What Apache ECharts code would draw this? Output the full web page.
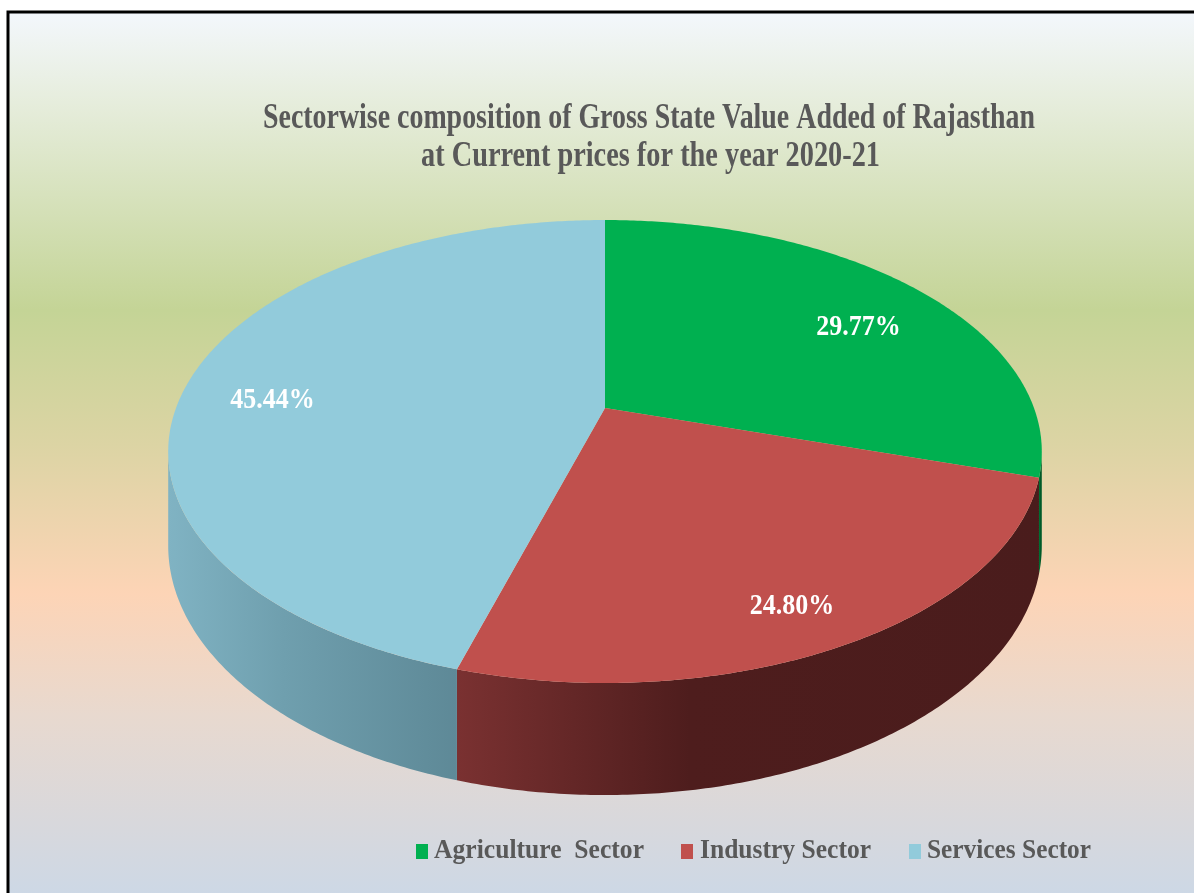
<!DOCTYPE html>
<html>
<head>
<meta charset="utf-8">
<script src="https://cdn.jsdelivr.net/npm/echarts@6/dist/echarts.min.js"></script>
<style>
  html, body { margin: 0; padding: 0; background: #fff; }
  #chart { width: 1194px; height: 893px; }
</style>
</head>
<body>
<div id="chart"></div>
<script>
// data
const sectors = ["Agriculture  Sector", "Industry Sector", "Services Sector"];
const shares = [29.77, 24.8, 45.44];
const titleLines = [
  "Sectorwise composition of Gross State Value Added of Rajasthan",
  "at Current prices for the year 2020-21",
];

// colours
const topColors = ["#00b050", "#c0504d", "#92cbdb"];
const sideColors = [
  ["#00803a", "#005a28", "#005a28"],
  ["#7a3131", "#4e1d1d", "#4a1c1c"],
  ["#80b3c3", "#6f9fae", "#5e8997"],
];

// pie projection (tilted disk with a bit of perspective)
const CX = 605, CY = 408, K = 429, KQ = 223.3, P = 0.188, DEPTH = 91;
const total = shares.reduce((a, b) => a + b, 0);
const SIL = Math.acos(-P); // where the wall starts to face the viewer

function sliceAngles(i) {
  let s = 0;
  for (let j = 0; j < i; j++) s += shares[j];
  return [(s / total) * Math.PI * 2, ((s + shares[i]) / total) * Math.PI * 2];
}

function project(theta, r, down) {
  const u = r * Math.sin(theta);
  const v = r * Math.cos(theta);
  const den = 1 + P * v;
  return [CX + (K * u) / den, CY + (-KQ * v + (down ? DEPTH : 0)) / den];
}

function arc(a0, a1, r, down) {
  const pts = [];
  const n = Math.max(2, Math.ceil((a1 - a0) / 0.01));
  for (let j = 0; j <= n; j++) pts.push(project(a0 + ((a1 - a0) * j) / n, r, down));
  return pts;
}

function renderSide(params, api) {
  const i = params.dataIndex;
  const [a0, a1] = sliceAngles(i);
  const t0 = Math.max(a0, SIL);
  const t1 = Math.min(a1, Math.PI * 2 - SIL);
  if (t0 >= t1) return null;
  const pts = arc(t0, t1, 1, false).concat(arc(t0, t1, 1, true).reverse());
  const c = sideColors[i];
  return {
    type: "polygon",
    shape: { points: pts },
    style: {
      // lighter toward the left
      fill: new echarts.graphic.LinearGradient(0, 0, 1, 0, [
        { offset: 0, color: c[0] },
        { offset: 0.4, color: c[1] },
        { offset: 1, color: c[2] },
      ]),
    },
  };
}

function renderTop(params, api) {
  const i = params.dataIndex;
  const [a0, a1] = sliceAngles(i);
  const pts = [project(0, 0, false)].concat(arc(a0, a1, 1, false));
  const lp = project((a0 + a1) / 2, 0.8, false);
  return {
    type: "group",
    children: [
      { type: "polygon", shape: { points: pts }, style: { fill: topColors[i] } },
      {
        type: "text",
        x: lp[0],
        y: lp[1] + 17,
        scaleY: 1.15,
        z2: 10,
        style: {
          text: api.value(0).toFixed(2) + "%",
          fill: "#fff",
          font: 'bold 26px "Liberation Serif"',
          align: "center",
          verticalAlign: "middle",
        },
      },
    ],
  };
}

// text fitting
const ctx = document.createElement("canvas").getContext("2d");
function fitText(text, font, left, width, y, color) {
  ctx.font = font;
  const w = ctx.measureText(text).width;
  return {
    type: "text",
    x: left,
    y: y,
    scaleX: width / w,
    scaleY: 1.08,
    style: { text, font, fill: color, align: "left", verticalAlign: "middle" },
  };
}

const titleFont = 'bold 33px "Liberation Serif"';
const legendFont = 'bold 26px "Liberation Serif"';
const legendBox = [416, 681, 909];
const legendText = [[434, 210], [700, 171], [927, 164]];

const graphics = [
  {
    type: "rect",
    z: -10,
    shape: { x: 9, y: 13, width: 1200, height: 900 },
    style: {
      fill: new echarts.graphic.LinearGradient(0, 0, 0, 1, [
        { offset: 0, color: "#f3f7fc" },
        { offset: 0.1, color: "#e6eddc" },
        { offset: 0.33, color: "#c4d496" },
        { offset: 0.48, color: "#dcd4a4" },
        { offset: 0.645, color: "#fdd4b6" },
        { offset: 0.78, color: "#e8d9cf" },
        { offset: 0.9, color: "#d8d8dc" },
        { offset: 1, color: "#cad8e8" },
      ]),
    },
  },
  {
    type: "polyline",
    shape: { points: [[8, 900], [8, 12], [1200, 12]] },
    style: { stroke: "#000", lineWidth: 3, fill: null },
  },
  fitText(titleLines[0], titleFont, 263, 772, 119, "#595959"),
  fitText(titleLines[1], titleFont, 421, 459, 157, "#595959"),
];
sectors.forEach((name, i) => {
  graphics.push({
    type: "rect",
    shape: { x: legendBox[i], y: 844, width: 12, height: 15 },
    style: { fill: topColors[i] },
  });
  graphics.push(fitText(name, legendFont, legendText[i][0], legendText[i][1], 851, "#595959"));
});

const chart = echarts.init(document.getElementById("chart"));
chart.setOption({
  animation: false,
  graphic: graphics,
  series: [
    {
      type: "custom",
      name: "side",
      coordinateSystem: "none",
      z: 2,
      renderItem: renderSide,
      data: shares,
    },
    {
      type: "custom",
      name: "top",
      coordinateSystem: "none",
      z: 3,
      renderItem: renderTop,
      data: shares,
    },
  ],
});
</script>
</body>
</html>
